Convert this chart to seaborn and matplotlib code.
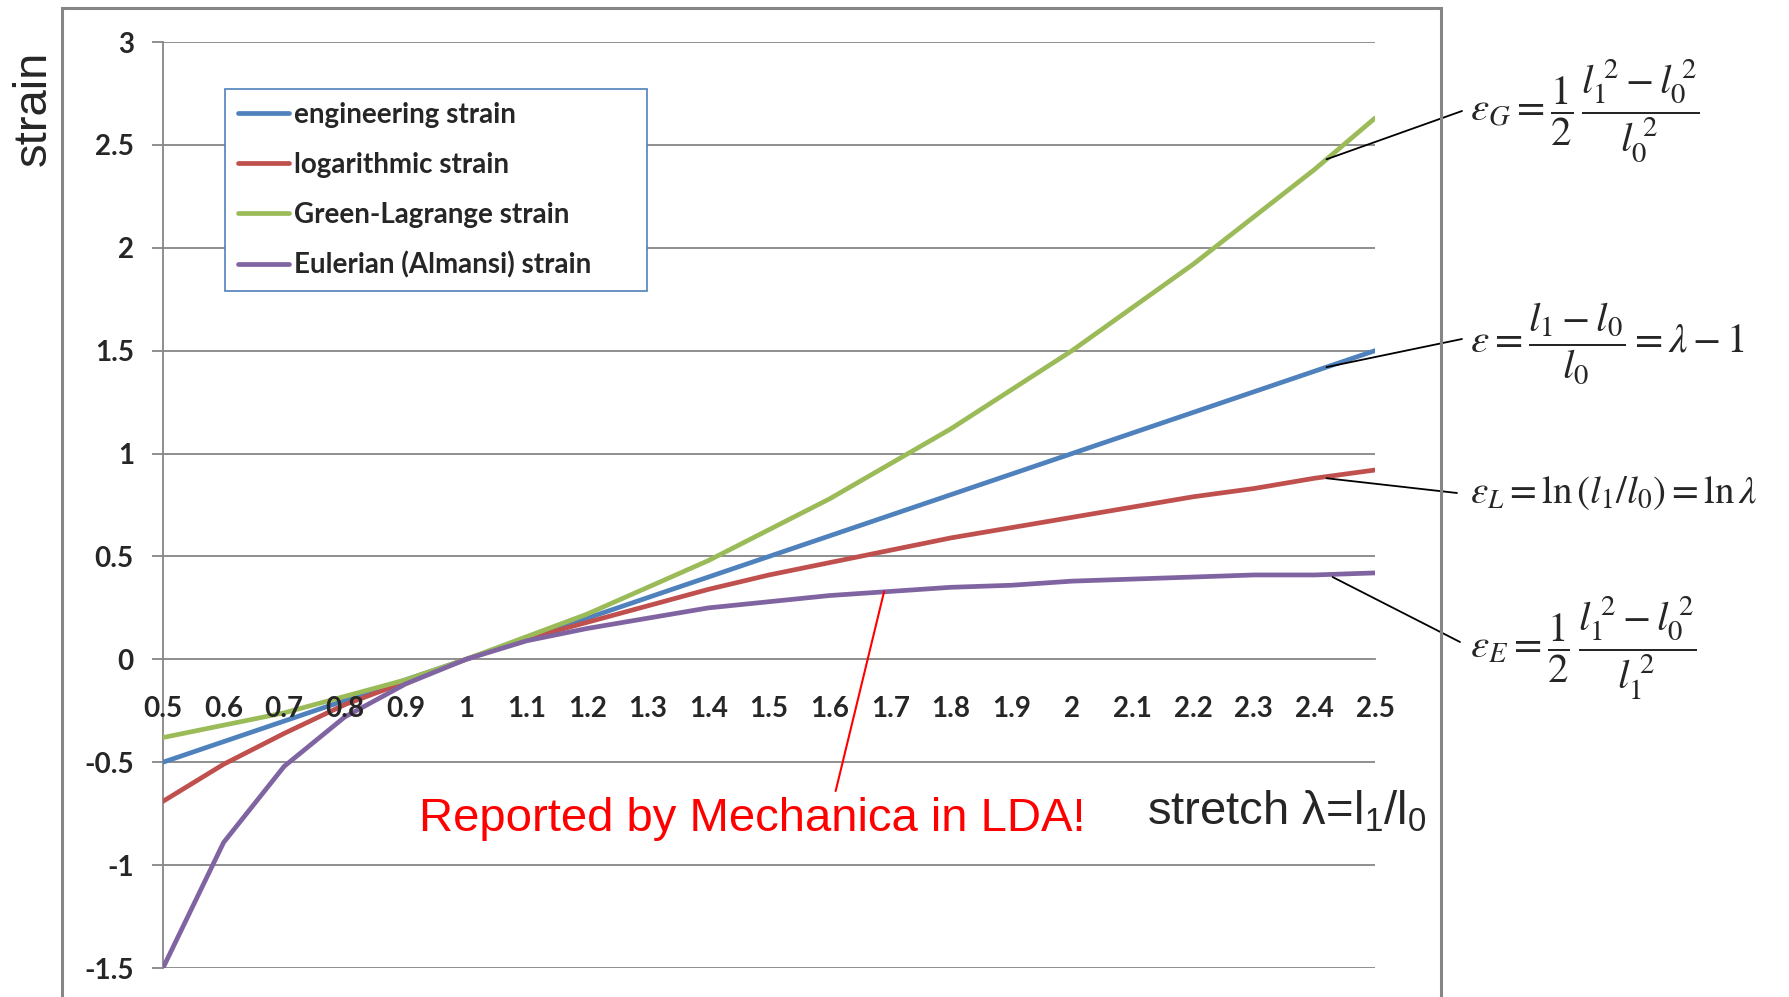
import numpy as np
import pandas as pd
import seaborn as sns
import matplotlib.pyplot as plt
from matplotlib.patches import Rectangle

# data
stretch = [0.5, 0.6, 0.7, 0.8, 0.9, 1.0, 1.1, 1.2, 1.3, 1.4, 1.5,
           1.6, 1.7, 1.8, 1.9, 2.0, 2.1, 2.2, 2.3, 2.4, 2.5]
x_labels = ['0.5', '0.6', '0.7', '0.8', '0.9', '1', '1.1', '1.2', '1.3', '1.4', '1.5',
            '1.6', '1.7', '1.8', '1.9', '2', '2.1', '2.2', '2.3', '2.4', '2.5']
engineering = [-0.5, -0.4, -0.3, -0.2, -0.1, 0.0, 0.1, 0.2, 0.3, 0.4, 0.5,
               0.6, 0.7, 0.8, 0.9, 1.0, 1.1, 1.2, 1.3, 1.4, 1.5]
logarithmic = [-0.69, -0.51, -0.36, -0.22, -0.11, 0.0, 0.1, 0.18, 0.26, 0.34, 0.41,
               0.47, 0.53, 0.59, 0.64, 0.69, 0.74, 0.79, 0.83, 0.88, 0.92]
green_lagrange = [-0.38, -0.32, -0.26, -0.18, -0.1, 0.0, 0.11, 0.22, 0.35, 0.48, 0.63,
                  0.78, 0.95, 1.12, 1.31, 1.5, 1.71, 1.92, 2.15, 2.38, 2.63]
eulerian = [-1.5, -0.89, -0.52, -0.28, -0.12, 0.0, 0.09, 0.15, 0.2, 0.25, 0.28,
            0.31, 0.33, 0.35, 0.36, 0.38, 0.39, 0.4, 0.41, 0.41, 0.42]
series_names = ['engineering strain', 'logarithmic strain',
                'Green-Lagrange strain', 'Eulerian (Almansi) strain']
series_colors = ['#4F81BD', '#C0504D', '#9BBB59', '#8064A2']
y_ticks = [-1.5, -1, -0.5, 0, 0.5, 1, 1.5, 2, 2.5, 3]
y_labels = ['-1.5', '-1', '-0.5', '0', '0.5', '1', '1.5', '2', '2.5', '3']

W, H = 1789, 997
GRAY = '#868686'

sns.set_style('white')
plt.rcParams['font.family'] = ['Lato', 'DejaVu Sans']
plt.rcParams['mathtext.fontset'] = 'stix'

fig = plt.figure(figsize=(W / 100, H / 100), dpi=100)
ax = fig.add_axes([163 / W, 1 - 968 / H, (1375 - 163) / W, (968 - 42) / H])

# horizontal gridlines under the curves
for yv in y_ticks:
    if yv != 0:
        ax.axhline(yv, color=GRAY, lw=1.3, zorder=0)

all_series = [engineering, logarithmic, green_lagrange, eulerian]
for name, vals, col in zip(series_names, all_series, series_colors):
    sns.lineplot(x=stretch, y=vals, color=col, lw=3.4, label=name, ax=ax, zorder=3)

ax.set_xlim(0.5, 2.5)
ax.set_ylim(-1.5, 3)

# axes styling
for s in ['top', 'right']:
    ax.spines[s].set_visible(False)
ax.spines['bottom'].set_position(('data', 0))
for s in ['left', 'bottom']:
    ax.spines[s].set_color(GRAY)
    ax.spines[s].set_linewidth(1.3)
ax.xaxis.set_zorder(4)

ax.set_xticks(stretch, labels=x_labels, fontweight='bold', fontsize=20)
ax.set_yticks(y_ticks, labels=y_labels, fontweight='bold', fontsize=20)
ax.tick_params(axis='x', direction='inout', length=14, width=1.3, color=GRAY, pad=19.5)
ax.tick_params(axis='y', direction='out', length=8, width=1.3, color=GRAY, pad=13, left=True)
ax.set_xlabel('')
ax.set_ylabel('')

leg = ax.legend(loc='upper left', bbox_to_anchor=(0.0512, 0.949, 0.348, 0), mode='expand',
                frameon=True, fancybox=False, edgecolor='#4F81BD', framealpha=1,
                prop={'weight': 'bold', 'size': 20}, handlelength=1.85, handletextpad=0.2,
                labelspacing=0.86, borderpad=0.45, borderaxespad=0)
leg.get_frame().set_linewidth(1.2)

# outer chart border
fig.add_artist(Rectangle((62 / W, -0.05), (1441 - 62) / W, 1.05 - 8 / H,
                         transform=fig.transFigure, fill=False, edgecolor=GRAY, lw=2.2))

# axis titles
fig.text(34 / W, 1 - 108 / H, 'strain', rotation=90, fontsize=34,
         family='Liberation Sans', ha='center', va='center')
fig.text(1147 / W, 1 - 812 / H, r'stretch λ=l$\mathregular{_1}$/l$\mathregular{_0}$',
         fontsize=34, family='Liberation Sans', ha='left', va='center')

# red note
ax.annotate('', xy=(1.69, 0.33), xytext=(1.61, -0.64),
            arrowprops=dict(arrowstyle='-', color='red', lw=1.5, shrinkA=0, shrinkB=0))
fig.text(419 / W, 1 - 819 / H, 'Reported by Mechanica in LDA!', color='red',
         fontsize=34, family='Liberation Sans', ha='left', va='center')

# formulas with leader lines
formulas = [
    (r'$\varepsilon_G = \dfrac{1}{2}\,\dfrac{l_1^{\;2} - l_0^{\;2}}{l_0^{\;2}}$', 111, 29.5, (2.42, 2.43), (1462, 111)),
    (r'$\varepsilon = \dfrac{l_1 - l_0}{l_0} = \lambda - 1$', 343, 29.5, (2.42, 1.42), (1462, 339)),
    (r'$\varepsilon_L = \ln\left(l_1 / l_0\right) = \ln\lambda$', 493, 28, (2.42, 0.88), (1457, 493)),
    (r'$\varepsilon_E = \dfrac{1}{2}\,\dfrac{l_1^{\;2} - l_0^{\;2}}{l_1^{\;2}}$', 648, 29.5, (2.43, 0.40), (1460, 642)),
]
for txt, ypix, fs, xy_data, end_pix in formulas:
    fig.text(1470 / W, 1 - ypix / H, txt, fontsize=fs, ha='left', va='center')
    ax.annotate('', xy=xy_data, xycoords='data',
                xytext=(end_pix[0] / W, 1 - end_pix[1] / H), textcoords='figure fraction',
                arrowprops=dict(arrowstyle='-', color='black', lw=1.3, shrinkA=0, shrinkB=0),
                annotation_clip=False)

fig.savefig('out.png', dpi=100)
